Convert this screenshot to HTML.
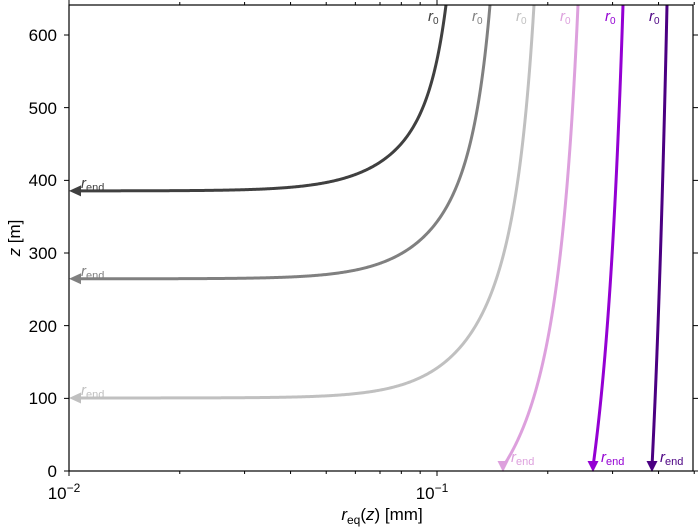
<!DOCTYPE html>
<html><head><meta charset="utf-8"><style>
body{margin:0;background:#fff}
svg{display:block;font-family:"Liberation Sans","DejaVu Sans",sans-serif}
</style></head><body>
<svg id="s" width="700" height="528" viewBox="0 0 700 528" xmlns="http://www.w3.org/2000/svg">
<rect width="700" height="528" fill="#fff"/>
<g id="curves"></g>
<g id="axes" stroke="#000" stroke-width="1" fill="none"></g>
<rect x="69" y="5" width="624" height="466" fill="none" stroke="#000" stroke-width="1.2"/>
<g font-size="17" fill="#000" text-anchor="end">
<text x="57" y="477">0</text><text x="57" y="404">100</text><text x="57" y="332">200</text>
<text x="57" y="259">300</text><text x="57" y="186">400</text><text x="57" y="114">500</text><text x="57" y="41">600</text>
</g>
<g font-size="17" fill="#000" text-anchor="middle">
<text x="64" y="499">10<tspan font-size="12" dy="-7">−2</tspan></text>
<text x="432" y="499">10<tspan font-size="12" dy="-7">−1</tspan></text>
<text x="382" y="520"><tspan font-style="italic">r</tspan><tspan font-size="12" dy="4">eq</tspan><tspan dy="-4">(</tspan><tspan font-style="italic">z</tspan>) [mm]</text>
</g>
<text transform="translate(20,238) rotate(-90)" font-size="17" text-anchor="middle"><tspan font-style="italic">z</tspan> [m]</text>
<g id="labels"></g>
</svg>
<script>
var NS="http://www.w3.org/2000/svg";
function X(r){return 69+368*(Math.log10(r)+2);}
function Y(z){return 471-z*0.72667;}
function R(x){return Math.pow(10,(x-69)/368-2);}
function f(u){var n=4+2.75*Math.pow(u,4);return Math.pow(u,n);}
function finv(v){var lo=0,hi=1;for(var i=0;i<60;i++){var m=(lo+hi)/2;if(f(m)<v)lo=m;else hi=m;}return (lo+hi)/2;}
var z0=641.3;
var C=[
 {x0:446,ze:385.5,col:"#404040",gray:1},
 {x0:490,ze:264.5,col:"#808080",gray:1},
 {x0:534,ze:100.5,col:"#c0c0c0",gray:1},
 {x0:578,xe:503,col:"#dda0dd"},
 {x0:623,xe:593,col:"#9400d3"},
 {x0:667,xe:652,col:"#4b0082"}];
var g=document.getElementById("curves"),lab=document.getElementById("labels"),ax=document.getElementById("axes");
C.forEach(function(c){
 var r0=R(c.x0);
 if(!c.gray){var u=R(c.xe)/r0,fv=f(u);c.ze=(6-fv*z0)/(1-fv);}
 var pts=[];
 if(c.gray){
   for(var i=0;i<=400;i++){
     var x=c.x0-(c.x0-78)*i/400;
     var u=R(x)/r0;
     var z=c.ze+f(u)*(z0-c.ze);
     pts.push([x,Y(z)]);
   }
   pts.reverse();
 } else {
   for(var i=0;i<=300;i++){
     var z=z0-(z0-6)*i/300;
     var r=r0*finv((z-c.ze)/(z0-c.ze));
     pts.push([X(r),Y(z)]);
   }
 }
 var p=document.createElementNS(NS,"path");
 p.setAttribute("d","M"+pts.map(function(q){return q[0].toFixed(2)+","+q[1].toFixed(2)}).join("L"));
 p.setAttribute("fill","none");p.setAttribute("stroke",c.col);p.setAttribute("stroke-width","3");
 g.appendChild(p);
 var a=document.createElementNS(NS,"path");
 var L=c.gray?pts[0]:pts[pts.length-1];
 if(c.gray){a.setAttribute("d","M69,"+L[1]+"L81,"+(L[1]-5.5)+"L81,"+(L[1]+5.5)+"Z");}
 else{a.setAttribute("d","M"+L[0]+",472L"+(L[0]-5.5)+",461L"+(L[0]+5.5)+",461Z");}
 a.setAttribute("fill",c.col);g.appendChild(a);
 var t=document.createElementNS(NS,"text");
 t.setAttribute("fill",c.col);t.setAttribute("font-size","15");
 t.setAttribute("x",c.x0-18);t.setAttribute("y",21);
 t.innerHTML='<tspan font-style="italic">r</tspan><tspan font-size="10" dy="3">0</tspan>';
 lab.appendChild(t);
 var e=document.createElementNS(NS,"text");
 e.setAttribute("fill",c.col);e.setAttribute("font-size","15");
 if(c.gray){e.setAttribute("x",81);e.setAttribute("y",L[1]-3);}
 else{e.setAttribute("x",L[0]+8);e.setAttribute("y",462);}
 e.innerHTML='<tspan font-style="italic">r</tspan><tspan font-size="11" dy="3">end</tspan>';
 lab.appendChild(e);
});
var d="";
for(var z=0;z<=600;z+=100){var y=Y(z);d+="M69,"+y+"h-5M693,"+y+"h5";}
for(var e=-2;e<=-1;e++)for(var k=1;k<=9;k++){var r=k*Math.pow(10,e);if(r>0.5)break;var x=X(r);var big=k==1;
 d+="M"+x+",471v"+(big?5:3)+"M"+x+",5v-"+(big?5:3);}
var pp=document.createElementNS(NS,"path");pp.setAttribute("d",d);ax.appendChild(pp);
</script>
</body></html>
